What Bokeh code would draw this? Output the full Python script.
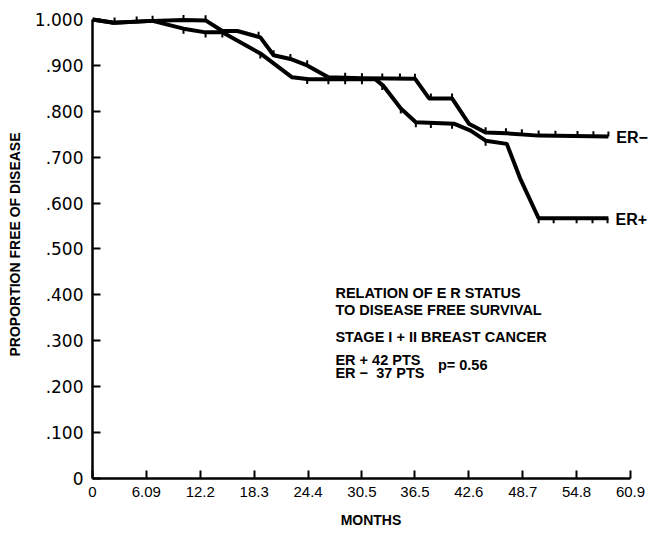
import numpy as np
from bokeh.plotting import figure
from bokeh.models import Range1d, FixedTicker, Label
from bokeh.embed import file_html
from bokeh.resources import INLINE

# ---------------- data ----------------
er_neg_months = [0, 2.4, 6.8, 10.3, 12.8, 14.7, 16.4, 19.0, 20.5, 22.4, 24.3, 26.7,
                 30.5, 36.5, 38.1, 40.7, 42.6, 44.5, 46.9, 50.5, 58.4]
er_neg_values = [1.000, 0.993, 0.997, 0.999, 0.998, 0.975, 0.975, 0.961, 0.922, 0.914,
                 0.900, 0.874, 0.872, 0.871, 0.828, 0.828, 0.773, 0.754, 0.752, 0.747, 0.745]

er_pos_months = [0, 2.4, 6.8, 10.3, 12.8, 14.7, 19.0, 22.6, 24.5, 32.0, 32.9, 34.9,
                 36.6, 40.9, 42.8, 44.5, 46.9, 48.4, 50.5, 58.4]
er_pos_values = [1.000, 0.993, 0.997, 0.980, 0.972, 0.972, 0.926, 0.874, 0.870, 0.870,
                 0.856, 0.806, 0.776, 0.773, 0.758, 0.736, 0.729, 0.654, 0.567, 0.567]

er_neg_censored = [2.5, 5.0, 6.8, 10.3, 12.8, 18.8, 20.5, 22.4, 24.3, 28.6, 30.5,
                   32.8, 34.8, 36.5, 38.3, 40.7, 44.5, 46.8, 48.6, 50.5, 52.4, 54.9, 56.7, 58.4]
er_pos_censored = [10.3, 12.8, 14.7, 19.0, 24.3, 26.7, 28.6, 30.5, 32.8, 34.9, 36.6,
                   38.3, 40.7, 44.5, 50.5, 52.2, 54.8, 56.6, 58.3]

x_tick_labels = ["0", "6.09", "12.2", "18.3", "24.4", "30.5", "36.5", "42.6", "48.7", "54.8", "60.9"]
y_tick_values = [0, 0.1, 0.2, 0.3, 0.4, 0.5, 0.6, 0.7, 0.8, 0.9, 1.0]
y_tick_labels = ["0", ".100", ".200", ".300", ".400", ".500", ".600", ".700", ".800", ".900", "1.000"]

series_labels = ["ER\u2212", "ER+"]
note_lines = ["RELATION OF E R STATUS", "TO DISEASE FREE SURVIVAL",
              "STAGE I + II BREAST CANCER", "ER + 42 PTS", "ER \u2212\u00a0 37 PTS"]
p_value_text = "p= 0.56"

# ---------------- figure ----------------
p = figure(width=653, height=536,
           x_range=Range1d(0, 63.05), y_range=Range1d(0, 1.0196),
           output_backend="svg", toolbar_location=None,
           min_border_left=92, min_border_right=4,
           min_border_top=10, min_border_bottom=58)
p.outline_line_color = None
p.xgrid.grid_line_color = None
p.ygrid.grid_line_color = None
p.background_fill_color = "white"
p.border_fill_color = "white"

x_ticks = [float(s) for s in x_tick_labels]
p.xaxis.ticker = FixedTicker(ticks=x_ticks)
p.xaxis.major_label_overrides = {t: s for t, s in zip(x_ticks, x_tick_labels)}
p.xaxis.bounds = (0, x_ticks[-1])
p.yaxis.ticker = FixedTicker(ticks=y_tick_values)
p.yaxis.major_label_overrides = {t: s for t, s in zip(y_tick_values, y_tick_labels)}
p.yaxis.bounds = (0, 1.0)

for ax in (p.xaxis, p.yaxis):
    ax.axis_line_color = "black"
    ax.axis_line_width = 2.5
    ax.major_tick_line_color = "black"
    ax.major_tick_line_width = 2
    ax.major_tick_in = 8
    ax.major_tick_out = 0
    ax.minor_tick_line_color = None
    ax.major_label_text_color = "black"
    ax.axis_label_text_color = "black"
    ax.axis_label_text_font = "Liberation Sans"
    ax.axis_label_text_font_style = "bold"
    ax.axis_label_text_font_size = "14px"

p.xaxis.major_label_text_font = "Liberation Sans"
p.xaxis.major_label_text_font_size = "15px"
p.xaxis.major_label_standoff = 8
p.xaxis.axis_label = "MONTHS"
p.xaxis.axis_label_standoff = 12

p.yaxis.major_label_text_font = "DejaVu Sans"
p.yaxis.major_label_text_font_size = "17px"
p.yaxis.major_label_standoff = 9
p.yaxis.axis_label = "PROPORTION FREE OF DISEASE"
p.yaxis.axis_label_standoff = 9

# curves
p.line(er_neg_months, er_neg_values, line_color="black", line_width=4, line_join="round")
p.line(er_pos_months, er_pos_values, line_color="black", line_width=4, line_join="round")

# censor marks (ER- up, ER+ down)
tick_len = 0.011
yn = np.interp(er_neg_censored, er_neg_months, er_neg_values)
p.segment(x0=er_neg_censored, y0=yn, x1=er_neg_censored, y1=yn + tick_len,
          line_color="black", line_width=2)
yp = np.interp(er_pos_censored, er_pos_months, er_pos_values)
p.segment(x0=er_pos_censored, y0=yp, x1=er_pos_censored, y1=yp - tick_len,
          line_color="black", line_width=2)

# end labels
p.add_layout(Label(x=59.3, y=0.742, text=series_labels[0], text_font="Liberation Sans",
                   text_font_style="bold", text_font_size="16px", text_baseline="middle",
                   text_color="black"))
p.add_layout(Label(x=59.2, y=0.565, text=series_labels[1], text_font="Liberation Sans",
                   text_font_style="bold", text_font_size="16px", text_baseline="middle",
                   text_color="black"))

# annotation block
note_y = [0.404, 0.368, 0.309, 0.259, 0.229]
for txt, yy in zip(note_lines, note_y):
    p.add_layout(Label(x=27.5, y=yy, text=txt, text_font="Liberation Sans",
                       text_font_style="bold", text_font_size="14.5px",
                       text_baseline="middle", text_color="black"))
p.add_layout(Label(x=39.1, y=0.248, text=p_value_text, text_font="Liberation Sans",
                   text_font_style="bold", text_font_size="14.5px",
                   text_baseline="middle", text_color="black"))

open("out.html", "w").write(file_html(p, INLINE))
